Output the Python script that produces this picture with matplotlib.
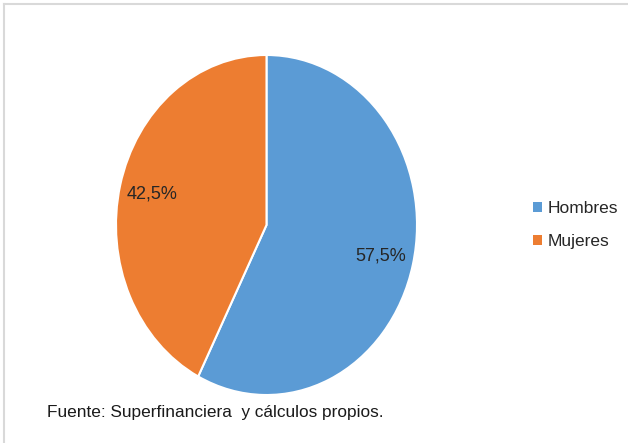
import matplotlib
matplotlib.use("Agg")
import matplotlib.pyplot as plt
from matplotlib.lines import Line2D
from matplotlib.patches import Patch

categories = ["Hombres", "Mujeres"]
values = [57.5, 42.5]
colors = ["#5B9BD5", "#ED7D31"]
source = "Fuente: Superfinanciera  y cálculos propios."

plt.rcParams['font.family'] = ['Liberation Sans', 'DejaVu Sans']

W, H = 628, 443
fig = plt.figure(figsize=(W / 100, H / 100), dpi=100)

# border lines
fig.add_artist(Line2D([4 / W, 1], [1 - 4 / H, 1 - 4 / H], color="#d9d9d9", lw=1.5, transform=fig.transFigure))
fig.add_artist(Line2D([4 / W, 4 / W], [0, 1 - 4 / H], color="#d9d9d9", lw=1.5, transform=fig.transFigure))

ax = fig.add_axes([116 / W, (H - 395) / H, 301 / W, 340 / H])
wedges, texts, autotexts = ax.pie(
    values, colors=colors, startangle=90, counterclock=False,
    autopct=lambda p: f"{p:.1f}%".replace('.', ','), pctdistance=0.78,
    wedgeprops=dict(edgecolor="white", linewidth=1.5),
    textprops=dict(fontsize=13, color="#262626"))
ax.set_aspect('auto')
ax.set_xlim(-1, 1)
ax.set_ylim(-1, 1)

handles = [Patch(facecolor=c, edgecolor='none') for c in colors]
fig.legend(handles, categories, loc='center left', bbox_to_anchor=(533 / W, 1 - 225 / H),
           frameon=False, fontsize=12.5, handlelength=0.5, handleheight=0.5,
           handletextpad=0.35, labelspacing=1.05, borderaxespad=0, borderpad=0,
           labelcolor="#262626")

fig.text(47 / W, 1 - 413 / H, source, fontsize=12.4, color="#1a1a1a", va='center', ha='left')

fig.savefig("out.png", dpi=100)
